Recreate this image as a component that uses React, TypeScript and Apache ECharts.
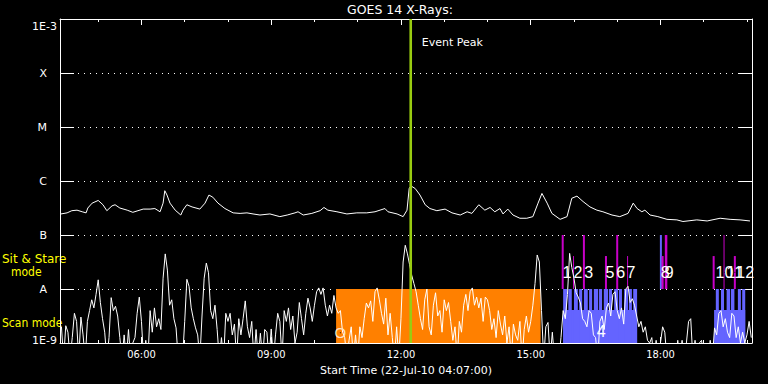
import React, { useEffect, useRef } from 'react';
import * as echarts from 'echarts';

// ---------------- data ----------------
const START_HOUR = 4 + 7 / 60; // 04:07 start time
const END_HOUR = START_HOUR + 16;

const levelValues = [-9, -8, -7, -6, -5, -4, -3];
const levelNames = ['1E-9', 'A', 'B', 'C', 'M', 'X', '1E-3'];

const majorHours = [6, 9, 12, 15, 18];
const minorHours = [5, 6, 7, 8, 9, 10, 11, 12, 13, 14, 15, 16, 17, 18, 19, 20];

// long channel (1-8 A), [hour, log10 flux]
const longChannel: [number, number][] = [
  [4.14, -6.61], [4.28, -6.59], [4.39, -6.55], [4.51, -6.54], [4.63, -6.57], [4.72, -6.59], [4.76, -6.5],
  [4.86, -6.41], [5.0, -6.36], [5.11, -6.44], [5.2, -6.55], [5.32, -6.46], [5.39, -6.44], [5.5, -6.5],
  [5.67, -6.54], [5.8, -6.58], [5.92, -6.55], [6.04, -6.52], [6.2, -6.52], [6.31, -6.51], [6.43, -6.57],
  [6.5, -6.41], [6.54, -6.18], [6.59, -6.26], [6.66, -6.41], [6.78, -6.54], [6.91, -6.63], [6.96, -6.54],
  [7.05, -6.44], [7.17, -6.48], [7.35, -6.52], [7.47, -6.41], [7.56, -6.26], [7.65, -6.3], [7.77, -6.41],
  [7.93, -6.51], [8.12, -6.59], [8.28, -6.6], [8.44, -6.59], [8.58, -6.61], [8.74, -6.63], [8.97, -6.61],
  [9.2, -6.66], [9.37, -6.63], [9.55, -6.59], [9.62, -6.57], [9.74, -6.63], [9.94, -6.6], [10.13, -6.55],
  [10.22, -6.49], [10.31, -6.54], [10.52, -6.57], [10.75, -6.61], [10.98, -6.59], [11.21, -6.59], [11.4, -6.57],
  [11.63, -6.51], [11.7, -6.57], [11.91, -6.61], [12.05, -6.66], [12.14, -6.54], [12.19, -6.14], [12.23, -6.09],
  [12.33, -6.14], [12.44, -6.26], [12.56, -6.44], [12.67, -6.51], [12.83, -6.55], [13.02, -6.52], [13.18, -6.59],
  [13.37, -6.63], [13.53, -6.57], [13.64, -6.6], [13.8, -6.44], [13.94, -6.54], [14.06, -6.49], [14.17, -6.57],
  [14.29, -6.51], [14.36, -6.61], [14.47, -6.52], [14.59, -6.63], [14.75, -6.69], [14.91, -6.69], [15.05, -6.66],
  [15.17, -6.41], [15.26, -6.23], [15.38, -6.41], [15.49, -6.6], [15.68, -6.71], [15.84, -6.66], [15.95, -6.32],
  [16.07, -6.28], [16.21, -6.38], [16.37, -6.48], [16.53, -6.54], [16.67, -6.57], [16.88, -6.63], [17.06, -6.66],
  [17.25, -6.6], [17.37, -6.41], [17.46, -6.51], [17.57, -6.57], [17.64, -6.54], [17.76, -6.63], [17.94, -6.66],
  [18.15, -6.71], [18.38, -6.72], [18.52, -6.75], [18.84, -6.72], [19.08, -6.74], [19.38, -6.69], [19.61, -6.71],
  [19.84, -6.72], [20.07, -6.74]
];

// short channel (0.5-4 A), [hour, log10 flux]
const shortChannel: [number, number][] = [
  [4.15, -8.7], [4.2, -9.3], [4.25, -8.68], [4.3, -8.8], [4.35, -9.3], [4.4, -8.9], [4.45, -8.45], [4.5, -8.6],
  [4.55, -9.3], [4.6, -8.52], [4.65, -8.85], [4.7, -9.3], [4.75, -8.6], [4.8, -8.4], [4.85, -8.2], [4.9, -8.35],
  [4.95, -8.1], [5.0, -7.83], [5.05, -8.25], [5.1, -8.55], [5.15, -8.8], [5.2, -9.3], [5.25, -8.9], [5.3, -8.16],
  [5.35, -8.4], [5.4, -8.32], [5.45, -8.5], [5.5, -8.9], [5.55, -9.3], [5.6, -8.85], [5.65, -9.3], [5.7, -8.75],
  [5.75, -9.3], [5.8, -9.0], [5.85, -8.9], [5.9, -8.45], [5.95, -8.15], [6.0, -8.6], [6.05, -9.3], [6.1, -8.95],
  [6.15, -9.3], [6.2, -8.4], [6.25, -8.8], [6.3, -8.35], [6.35, -8.7], [6.4, -8.55], [6.45, -8.75], [6.5, -7.8],
  [6.55, -7.35], [6.6, -7.65], [6.65, -8.3], [6.7, -8.2], [6.75, -8.55], [6.8, -8.72], [6.85, -9.3], [6.9, -9.0],
  [6.95, -9.3], [7.0, -8.6], [7.05, -7.82], [7.1, -7.95], [7.15, -8.35], [7.2, -8.55], [7.25, -8.72], [7.3, -8.85],
  [7.35, -9.3], [7.4, -8.5], [7.45, -7.8], [7.5, -7.52], [7.55, -7.7], [7.6, -8.4], [7.65, -8.55], [7.7, -8.3],
  [7.75, -8.75], [7.8, -9.3], [7.85, -8.9], [7.9, -9.3], [7.95, -8.45], [8.0, -8.6], [8.05, -8.45], [8.1, -8.85],
  [8.15, -8.65], [8.2, -9.3], [8.25, -8.55], [8.3, -8.85], [8.35, -8.55], [8.4, -8.22], [8.45, -8.7], [8.5, -8.9],
  [8.55, -8.6], [8.6, -9.3], [8.65, -8.75], [8.7, -9.3], [8.75, -8.82], [8.8, -9.3], [8.85, -8.75], [8.9, -8.8],
  [8.95, -9.3], [9.0, -8.74], [9.05, -9.3], [9.1, -8.85], [9.15, -8.45], [9.2, -8.6], [9.25, -9.3], [9.3, -8.4],
  [9.35, -8.6], [9.4, -8.35], [9.45, -8.75], [9.5, -8.5], [9.55, -9.0], [9.6, -8.8], [9.65, -8.25], [9.7, -8.55],
  [9.75, -8.85], [9.8, -8.45], [9.85, -8.17], [9.9, -8.35], [9.95, -8.6], [10.0, -8.3], [10.05, -8.05], [10.1, -7.98],
  [10.15, -8.1], [10.2, -7.98], [10.25, -8.3], [10.3, -8.5], [10.35, -8.3], [10.4, -8.45], [10.45, -8.12], [10.5, -8.35],
  [10.55, -8.45], [10.6, -8.4], [10.65, -8.8], [10.7, -8.9], [10.75, -9.3], [10.8, -8.95], [10.85, -8.7], [10.9, -9.3],
  [10.95, -8.85], [11.0, -9.3], [11.05, -8.7], [11.1, -8.9], [11.15, -8.55], [11.2, -8.26], [11.25, -8.35], [11.3, -8.22],
  [11.35, -8.6], [11.4, -8.05], [11.45, -7.98], [11.5, -8.2], [11.55, -8.45], [11.6, -8.65], [11.65, -8.17], [11.7, -8.85],
  [11.75, -8.45], [11.8, -8.9], [11.85, -9.3], [11.9, -8.7], [11.95, -9.3], [12.0, -8.55], [12.05, -7.5], [12.1, -7.19],
  [12.15, -7.35], [12.2, -7.55], [12.25, -7.75], [12.3, -7.9], [12.35, -8.05], [12.4, -8.3], [12.45, -8.55], [12.5, -8.75],
  [12.55, -8.2], [12.6, -8.0], [12.65, -8.7], [12.7, -8.85], [12.75, -8.3], [12.8, -8.07], [12.85, -8.5], [12.9, -8.4],
  [12.95, -8.8], [13.0, -8.2], [13.05, -8.4], [13.1, -8.25], [13.15, -8.6], [13.2, -8.95], [13.25, -8.7], [13.3, -9.3],
  [13.35, -8.6], [13.4, -8.8], [13.45, -8.3], [13.5, -8.1], [13.55, -8.4], [13.6, -8.05], [13.65, -7.98], [13.7, -8.3],
  [13.75, -8.15], [13.8, -8.35], [13.85, -8.17], [13.9, -8.6], [13.95, -8.15], [14.0, -8.2], [14.05, -8.4], [14.1, -8.75],
  [14.15, -8.55], [14.2, -8.9], [14.25, -8.4], [14.3, -8.65], [14.35, -8.85], [14.4, -8.5], [14.45, -9.0], [14.5, -8.7],
  [14.55, -9.3], [14.6, -8.65], [14.65, -8.85], [14.7, -8.95], [14.75, -8.6], [14.8, -9.3], [14.85, -8.75], [14.9, -8.5],
  [14.95, -8.8], [15.0, -8.6], [15.05, -8.3], [15.1, -7.9], [15.15, -7.37], [15.2, -7.5], [15.25, -8.4], [15.3, -9.3],
  [15.35, -8.7], [15.4, -8.62], [15.45, -9.3], [15.5, -8.8], [15.55, -9.3], [15.6, -9.0], [15.65, -9.3], [15.7, -8.9],
  [15.75, -8.4], [15.8, -8.55], [15.85, -8.1], [15.9, -7.34], [15.95, -7.6], [16.0, -7.8], [16.05, -8.07], [16.1, -8.15],
  [16.15, -8.26], [16.2, -8.55], [16.25, -8.6], [16.3, -8.7], [16.35, -8.4], [16.4, -8.45], [16.45, -8.85], [16.5, -8.9],
  [16.55, -9.3], [16.6, -8.6], [16.65, -8.5], [16.7, -8.75], [16.75, -8.35], [16.8, -8.26], [16.85, -8.5], [16.9, -8.1],
  [16.95, -8.05], [17.0, -8.4], [17.05, -8.55], [17.1, -8.35], [17.15, -8.65], [17.2, -8.0], [17.25, -7.95], [17.3, -8.25],
  [17.35, -8.18], [17.4, -8.3], [17.45, -8.5], [17.5, -8.7], [17.55, -8.6], [17.6, -8.8], [17.65, -8.7], [17.7, -8.95],
  [17.75, -9.0], [17.8, -8.9], [17.85, -9.3], [17.9, -8.95], [17.95, -9.3], [18.0, -9.0], [18.05, -8.7], [18.1, -8.8],
  [18.15, -9.3], [18.2, -9.0], [18.25, -9.3], [18.3, -9.0], [18.35, -9.3], [18.4, -8.95], [18.45, -9.3], [18.5, -8.95],
  [18.55, -9.3], [18.6, -9.0], [18.65, -8.6], [18.7, -8.55], [18.75, -9.3], [18.8, -8.95], [18.85, -9.3], [18.9, -9.0],
  [18.95, -8.95], [19.0, -9.3], [19.05, -9.0], [19.1, -9.3], [19.15, -8.95], [19.2, -9.3], [19.25, -8.72], [19.3, -8.85],
  [19.35, -8.45], [19.4, -8.4], [19.45, -8.7], [19.5, -8.55], [19.55, -8.8], [19.6, -8.9], [19.65, -8.45], [19.7, -8.5],
  [19.75, -8.9], [19.8, -8.7], [19.85, -9.0], [19.9, -8.8], [19.95, -9.0], [20.0, -8.85], [20.05, -8.6], [20.1, -8.9]
];

// observing blocks: [start hour, end hour, top level]
const sitStareBlocks: [number, number, number][] = [[10.5, 15.23, -8]];
const scanBlocks: [number, number, number][] = [
  [15.75, 17.46, -8.39],
  [15.75, 15.84, -8], [15.87, 15.95, -8], [16.0, 16.09, -8], [16.12, 16.19, -8], [16.23, 16.32, -8],
  [16.35, 16.42, -8], [16.46, 16.56, -8], [16.58, 16.65, -8], [16.69, 16.79, -8], [16.81, 16.88, -8],
  [16.93, 17.02, -8], [17.04, 17.11, -8], [17.16, 17.25, -8], [17.27, 17.34, -8], [17.37, 17.46, -8],
  [19.24, 19.96, -8.39],
  [19.28, 19.35, -8], [19.4, 19.47, -8], [19.53, 19.61, -8], [19.63, 19.71, -8], [19.79, 19.86, -8], [19.89, 19.96, -8]
];

// event markers
const eventLineTimes = [15.74, 15.99, 16.23, 16.74, 17.0, 17.24, 18.01, 18.05, 18.13, 19.23, 19.47, 19.72];
const eventLineTops = [-7, -7.39, -7, -7.39, -7, -7.39, -7, -7.39, -7, -7.39, -7, -7.39];
const eventLineKinds = ['main', 'thin', 'main', 'main', 'main', 'thin', 'blue', 'main', 'wide', 'main', 'thin', 'main'];

const eventNumbers = ['1', '2', '3', '4', '5', '6', '7', '8', '9', '10', '11', '12'];
const eventNumberTimes = [15.84, 16.09, 16.34, 16.63, 16.83, 17.08, 17.32, 18.11, 18.2, 19.48, 19.72, 19.96];
const eventNumberLevels = [-7.69, -7.69, -7.69, -8.78, -7.69, -7.69, -7.69, -7.69, -7.69, -7.69, -7.69, -7.69];

const eventPeakTime = 12.226;
const eventPeakLabel = 'Event Peak';
const eventPeakLabelPos: [number, number] = [12.48, -3.44];
const startMarker = { text: 'O', time: 10.6, level: -8.81 };

const titleText = 'GOES 14 X-Rays:';
const xAxisName = 'Start Time (22-Jul-10 04:07:00)';
const modeLabels = ['Sit & Stare', 'mode', 'Scan mode'];

// ---------------- chart ----------------
const FONT = 'DejaVu Sans';
const COND = '"DejaVu Sans Condensed", "DejaVu Sans"';
const ORANGE = '#ff8000';
const BLUE = '#6464ff';
const MAGENTA = '#c800c8';
const GREEN = '#99cc11';

export default function App() {
  const ref = useRef<HTMLDivElement>(null);

  useEffect(() => {
    if (!ref.current) return;
    const chart = echarts.init(ref.current, undefined, { renderer: 'svg' });

    const pad = (h: number) => (h < 10 ? '0' + h : '' + h) + ':00';
    const levelName = (v: number) => {
      const i = levelValues.indexOf(Math.round(v));
      return i >= 0 ? levelNames[i] : '';
    };

    const baseX = {
      type: 'value',
      min: START_HOUR,
      max: END_HOUR,
      splitLine: { show: false },
      axisLabel: { show: false },
    };

    const blockData = [
      ...sitStareBlocks.map((b) => [b[0], b[1], b[2], 0]),
      ...scanBlocks.map((b) => [b[0], b[1], b[2], 1]),
    ];

    const lineData = eventLineTimes.map((t, i) => [t, eventLineTops[i], i]);

    const plainLabel = {
      show: true,
      position: 'inside',
      textBorderWidth: 0,
      textBorderColor: 'transparent',
      textShadowBlur: 0,
      opacity: 1,
      verticalAlign: 'middle',
    };

    const option: any = {
      animation: false,
      backgroundColor: '#000',
      grid: { left: 60, right: 16, top: 19, bottom: 41, containLabel: false },
      xAxis: [
        {
          ...baseX,
          position: 'bottom',
          axisLine: { show: true, onZero: false, lineStyle: { color: '#fff', width: 1 } },
          axisTick: { show: true, inside: true, length: 3, customValues: minorHours, lineStyle: { color: '#fff' } },
          axisLabel: {
            show: true,
            customValues: majorHours,
            formatter: (v: number) => pad(Math.round(v)),
            color: '#fff',
            fontFamily: COND,
            fontSize: 11,
            margin: 6,
          },
          name: xAxisName,
          nameLocation: 'middle',
          nameGap: 21,
          nameTextStyle: { color: '#fff', fontFamily: FONT, fontSize: 11 },
        },
        {
          ...baseX,
          position: 'bottom',
          axisLine: { show: false, onZero: false },
          axisTick: { show: true, inside: true, length: 6, customValues: majorHours, lineStyle: { color: '#fff' } },
        },
        {
          ...baseX,
          position: 'top',
          axisLine: { show: true, onZero: false, lineStyle: { color: '#fff', width: 1 } },
          axisTick: { show: true, inside: true, length: 3, customValues: minorHours, lineStyle: { color: '#fff' } },
        },
        {
          ...baseX,
          position: 'top',
          axisLine: { show: false, onZero: false },
          axisTick: { show: true, inside: true, length: 6, customValues: majorHours, lineStyle: { color: '#fff' } },
        },
      ],
      yAxis: [
        {
          type: 'value',
          min: -9,
          max: -3,
          interval: 1,
          position: 'left',
          axisLine: { show: true, onZero: false, lineStyle: { color: '#fff', width: 1 } },
          axisTick: { show: true, inside: true, length: 14, lineStyle: { color: '#fff', width: 1 } },
          splitLine: { show: true, lineStyle: { color: '#fff', type: [1, 5], width: 1 } },
          axisLabel: {
            color: '#fff',
            fontFamily: FONT,
            fontSize: 11,
            margin: 3,
            formatter: (v: number) => {
              const n = levelName(v);
              if (Math.round(v) === -3) return '{t|' + n + '}';
              if (Math.round(v) === -9) return '{b|' + n + '}';
              return '{l|' + n + '}';
            },
            rich: {
              t: { color: '#fff', fontFamily: FONT, fontSize: 11, padding: [14, 0, 0, 0] },
              b: { color: '#fff', fontFamily: FONT, fontSize: 11, padding: [0, 0, 6, 0] },
              l: { color: '#fff', fontFamily: FONT, fontSize: 11, padding: [0, 10, 0, 0] },
            },
          },
        },
        {
          type: 'value',
          min: -9,
          max: -3,
          interval: 1,
          position: 'right',
          axisLine: { show: true, onZero: false, lineStyle: { color: '#fff', width: 1 } },
          axisTick: { show: true, inside: true, length: 14, lineStyle: { color: '#fff', width: 1 } },
          splitLine: { show: false },
          axisLabel: { show: false },
        },
      ],
      graphic: [
        {
          type: 'text',
          left: 347,
          top: 3,
          style: { text: titleText, fill: '#fff', font: '12.5px "DejaVu Sans"' },
        },
        {
          type: 'text',
          x: 2,
          y: 259,
          style: { text: modeLabels[0], fill: '#ffff00', font: '12px "DejaVu Sans"', verticalAlign: 'middle' },
        },
        {
          type: 'text',
          x: 11,
          y: 271.5,
          style: { text: modeLabels[1], fill: '#ffff00', font: '12px "DejaVu Sans Condensed", "DejaVu Sans"', verticalAlign: 'middle' },
        },
        {
          type: 'text',
          x: 2,
          y: 323,
          style: { text: modeLabels[2], fill: '#ffff00', font: '12px "DejaVu Sans Condensed", "DejaVu Sans"', verticalAlign: 'middle' },
        },
      ],
      series: [
        {
          type: 'custom',
          name: 'blocks',
          z: 1,
          clip: true,
          data: blockData,
          encode: { x: [0, 1], y: 2 },
          renderItem: (params: any, api: any) => {
            const p0 = api.coord([api.value(0), api.value(2)]);
            const p1 = api.coord([api.value(1), -9]);
            return {
              type: 'rect',
              shape: { x: p0[0], y: p0[1], width: p1[0] - p0[0], height: p1[1] - p0[1] },
              style: { fill: api.value(3) === 0 ? ORANGE : BLUE },
            };
          },
        },
        {
          type: 'custom',
          name: 'eventLines',
          z: 2,
          data: lineData,
          encode: { x: 0, y: 1 },
          renderItem: (params: any, api: any) => {
            const t = api.value(0);
            const idx = api.value(2);
            const kind = eventLineKinds[idx];
            const p0 = api.coord([t, api.value(1)]);
            const p1 = api.coord([t, -8]);
            const width = kind === 'thin' ? 1 : kind === 'wide' ? 2.5 : 2;
            return {
              type: 'line',
              shape: { x1: p0[0], y1: p0[1], x2: p1[0], y2: p1[1] },
              style: { stroke: kind === 'blue' ? BLUE : MAGENTA, lineWidth: width },
            };
          },
        },
        {
          type: 'line',
          name: 'long',
          z: 3,
          data: longChannel,
          symbol: 'none',
          clip: true,
          lineStyle: { color: '#fff', width: 1 },
        },
        {
          type: 'line',
          name: 'short',
          z: 3,
          data: shortChannel,
          symbol: 'none',
          clip: true,
          lineStyle: { color: '#fff', width: 1 },
        },
        {
          type: 'custom',
          name: 'peak',
          z: 4,
          data: [[eventPeakTime, -3]],
          encode: { x: 0, y: 1 },
          renderItem: (params: any, api: any) => {
            const t = api.value(0);
            const p0 = api.coord([t, -3]);
            const p1 = api.coord([t, -9]);
            return {
              type: 'line',
              shape: { x1: p0[0], y1: p0[1], x2: p1[0], y2: p1[1] },
              style: { stroke: GREEN, lineWidth: 2.6 },
            };
          },
        },
        {
          type: 'scatter',
          name: 'labels',
          z: 5,
          symbolSize: 1,
          itemStyle: { color: '#000', opacity: 1 },
          emphasis: { disabled: true },
          data: [
            ...eventNumbers.map((n, i) => ({
              value: [eventNumberTimes[i], eventNumberLevels[i]],
              name: n,
              label: {
                ...plainLabel,
                formatter: n,
                color: '#ffffff',
                fontFamily: 'Liberation Sans',
                fontSize: 16,
                align: 'center',
              },
            })),
            {
              value: eventPeakLabelPos,
              name: eventPeakLabel,
              label: {
                ...plainLabel,
                formatter: eventPeakLabel,
                color: '#ffffff',
                fontFamily: FONT,
                fontSize: 11,
                align: 'left',
              },
            },
            {
              value: [startMarker.time, startMarker.level],
              name: startMarker.text,
              label: {
                ...plainLabel,
                formatter: startMarker.text,
                color: '#ffe0c0',
                fontFamily: 'Liberation Sans',
                fontSize: 15,
                align: 'center',
              },
            },
          ],
        },
      ],
    };

    chart.setOption(option);
    return () => chart.dispose();
  }, []);

  return (
    <div
      ref={ref}
      style={{ position: 'fixed', left: 0, top: 0, width: 768, height: 384, background: '#000' }}
    />
  );
}
